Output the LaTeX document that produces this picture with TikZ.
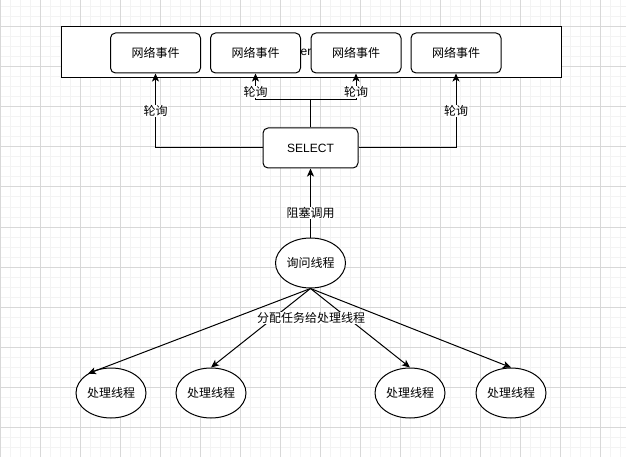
\documentclass[tikz,border=0pt]{standalone}
\usepackage{fontspec}
\setmainfont{Liberation Sans}
\newfontfamily\cjk{Noto Sans CJK SC}
\usetikzlibrary{arrows.meta,positioning,shapes.geometric}
\definecolor{gridfine}{RGB}{243,243,243}
\definecolor{gridmajor}{RGB}{216,216,216}
\tikzset{
  eventbox/.style={draw, line width=1pt, rounded corners=5pt, fill=white,
    minimum width=90pt, minimum height=40pt, inner sep=0pt, font=\cjk\fontsize{12}{14}\selectfont},
  selectbox/.style={draw, line width=1pt, rounded corners=5pt, fill=white,
    minimum width=95pt, minimum height=40pt, inner sep=0pt, font=\fontsize{12}{14}\selectfont},
  thread/.style={ellipse, draw, line width=1pt, fill=white,
    minimum width=70pt, minimum height=50pt, inner sep=0pt, font=\cjk\fontsize{12}{14}\selectfont},
  lbl/.style={fill=white, inner sep=0.5pt, font=\cjk\fontsize{12}{14}\selectfont},
  flow/.style={-{Stealth[length=8pt,width=7pt,inset=2pt]}, line width=1pt},
  plain/.style={line width=1pt}
}
\begin{document}
\begin{tikzpicture}[x=1pt, y=-1pt]
\useasboundingbox (0,0) rectangle (626,457);
% background grid
\fill[white] (0,0) rectangle (626,457);
\foreach \gx in {0,10,...,620} \draw[gridfine, line width=1pt] (\gx,0) -- (\gx,457);
\foreach \gy in {7,17,...,457} \draw[gridfine, line width=1pt] (0,\gy) -- (626,\gy);
\foreach \gx in {0,40,...,600} \draw[gridmajor, line width=1pt] (\gx,0) -- (\gx,457);
\foreach \gy in {27,67,...,427} \draw[gridmajor, line width=1pt] (0,\gy) -- (626,\gy);

% container
\node[draw, line width=1pt, fill=white, minimum width=500pt, minimum height=51pt, inner sep=0pt] (pool) at (311,52.5) {};
\node[font=\fontsize{12}{14}\selectfont, inner sep=0pt] (poolname) at (306,52) {er};

\node[eventbox] (ev1) at (155.5,53) {网络事件};
\node[eventbox] (ev2) at (255.5,53) {网络事件};
\node[eventbox] (ev3) at (356,53) {网络事件};
\node[eventbox] (ev4) at (456,53) {网络事件};

\node[selectbox] (sel) at (310.5,148) {SELECT};
\node[thread] (poll) at (310.5,263) {询问线程};

\node[thread] (w1) at (111,393) {处理线程};
\node[thread] (w2) at (211,393) {处理线程};
\node[thread] (w3) at (410,393) {处理线程};
\node[thread] (w4) at (511,393) {处理线程};

% polling
\coordinate (fork) at (310.5,100);
\draw[flow] (sel.west) -| (ev1.south) node[lbl, pos=0.75] {轮询};
\draw[flow] (sel.east) -| (ev4.south) node[lbl, pos=0.75] {轮询};
\draw[plain] (sel.north) -- (fork);
\draw[flow] (fork) -| (ev2.south) node[lbl, pos=0.65] {轮询};
\draw[flow] (fork) -| (ev3.south) node[lbl, pos=0.65] {轮询};

\draw[flow] (poll.north) -- (sel.south) node[lbl, pos=0.36] {阻塞调用};

% dispatch
\draw[flow] (poll.south) -- (w1.140);
\draw[flow] (poll.south) -- (w2.north);
\draw[flow] (poll.south) -- (w3.north);
\draw[flow] (poll.south) -- (w4.north);
\node[lbl] (dispatch) at (311,318) {分配任务给处理线程};
\end{tikzpicture}
\end{document}
